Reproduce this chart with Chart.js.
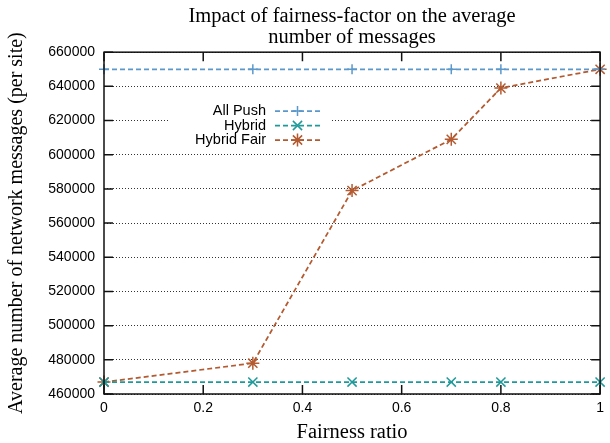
<!DOCTYPE html>
<html>
<head>
<meta charset="utf-8">
<script src="https://cdn.jsdelivr.net/npm/chart.js@4/dist/chart.umd.min.js"></script>
<style>
    html, body { margin: 0; padding: 0; background: #fff; }
    canvas { display: block; }
</style>
</head>
<body>
<canvas id="chart" width="610" height="443"></canvas>
<script>
// Chart data
const fairness = [0, 0.3, 0.5, 0.7, 0.8, 1];
const allPush = [650000, 650000, 650000, 650000, 650000, 650000];
const hybrid = [467000, 467000, 467000, 467000, 467000, 467000];
const hybridFair = [467000, 478000, 579000, 609000, 639000, 650000];

const xTicks = [0, 0.2, 0.4, 0.6, 0.8, 1];
const yMin = 460000;
const yMax = 660000;
const yStep = 20000;

const seriesNames = ['All Push', 'Hybrid', 'Hybrid Fair'];
const seriesColors = ['#5b98cc', '#1f9a9a', '#b35a30'];
const seriesMarkers = ['cross', 'crossRot', 'star'];
const markerSizes = [5, 6.5, 6.5];
const seriesValues = [allPush, hybrid, hybridFair];

const sans = "'Liberation Sans', Arial, sans-serif";
const serif = "'Liberation Serif', 'Times New Roman', serif";
const dash = [5, 3];

// Draw a gnuplot-like marker (+, x or *) for the key
function drawMarker(ctx, style, cx, cy, r) {
    ctx.beginPath();
    if (style === 'cross' || style === 'star') {
        ctx.moveTo(cx - r, cy); ctx.lineTo(cx + r, cy);
        ctx.moveTo(cx, cy - r); ctx.lineTo(cx, cy + r);
    }
    if (style === 'crossRot' || style === 'star') {
        const d = r * Math.SQRT1_2;
        ctx.moveTo(cx - d, cy - d); ctx.lineTo(cx + d, cy + d);
        ctx.moveTo(cx - d, cy + d); ctx.lineTo(cx + d, cy - d);
    }
    ctx.stroke();
}

// Border box with inward ticks
const framePlugin = {
    id: 'frame',
    afterDatasetsDraw(chart) {
        const { ctx, chartArea: a, scales: { x, y } } = chart;
        ctx.save();
        ctx.strokeStyle = '#111';
        ctx.lineWidth = 1.5;
        ctx.beginPath();
        xTicks.forEach(v => {
            const px = x.getPixelForValue(v);
            ctx.moveTo(px, a.bottom); ctx.lineTo(px, a.bottom - 9);
            ctx.moveTo(px, a.top); ctx.lineTo(px, a.top + 9);
        });
        y.ticks.forEach(t => {
            const py = y.getPixelForValue(t.value);
            ctx.moveTo(a.left, py); ctx.lineTo(a.left + 9, py);
            ctx.moveTo(a.right, py); ctx.lineTo(a.right - 9, py);
        });
        ctx.stroke();
        ctx.strokeRect(a.left, a.top, a.right - a.left, a.bottom - a.top);
        ctx.restore();
    }
};

// Key inside the plot, opaque like gnuplot's
const keyPlugin = {
    id: 'key',
    afterDraw(chart) {
        const ctx = chart.ctx;
        const textRight = 266;
        const lineStart = 275;
        const lineEnd = 320;
        const top = 111;
        const rowGap = 14.5;
        ctx.save();
        ctx.fillStyle = '#fff';
        ctx.fillRect(168, 101, 162, 48);
        ctx.font = '14.5px ' + sans;
        ctx.textAlign = 'right';
        ctx.textBaseline = 'middle';
        seriesNames.forEach((name, i) => {
            const yy = top + i * rowGap;
            ctx.fillStyle = '#000';
            ctx.fillText(name, textRight, yy);
            ctx.strokeStyle = seriesColors[i];
            ctx.lineWidth = 1.75;
            ctx.setLineDash(dash);
            ctx.beginPath();
            ctx.moveTo(lineStart, yy);
            ctx.lineTo(lineEnd, yy);
            ctx.stroke();
            ctx.setLineDash([]);
            ctx.lineWidth = 1.5;
            drawMarker(ctx, seriesMarkers[i], (lineStart + lineEnd) / 2, yy, markerSizes[i]);
        });
        ctx.restore();
    }
};

const datasets = seriesNames.map((name, i) => ({
    label: name,
    data: fairness.map((f, j) => ({ x: f, y: seriesValues[i][j] })),
    borderColor: seriesColors[i],
    backgroundColor: seriesColors[i],
    borderWidth: 1.75,
    borderDash: dash,
    pointStyle: seriesMarkers[i],
    pointRadius: markerSizes[i],
    pointBorderWidth: 1.5,
    tension: 0,
    clip: false
}));

new Chart(document.getElementById('chart').getContext('2d'), {
    type: 'line',
    data: { datasets: datasets },
    options: {
        responsive: false,
        animation: false,
        devicePixelRatio: 1,
        layout: { padding: { left: 0, right: 3, top: 0, bottom: 0 } },
        plugins: {
            legend: { display: false },
            tooltip: { enabled: false },
            title: {
                display: true,
                fullSize: false,
                text: ['Impact of fairness-factor on the average', 'number of messages'],
                color: '#000',
                font: { family: serif, size: 20.5, weight: 'normal', lineHeight: 0.98 },
                padding: { top: 7, bottom: 5 }
            }
        },
        scales: {
            x: {
                type: 'linear',
                min: 0,
                max: 1,
                afterFit: s => { s.height = 49; },
                afterBuildTicks: s => { s.ticks = xTicks.map(v => ({ value: v })); },
                grid: { display: false, drawTicks: false },
                border: { display: false },
                ticks: {
                    color: '#000',
                    padding: 6,
                    font: { family: sans, size: 14 },
                    callback: v => String(+v.toFixed(1))
                },
                title: {
                    display: true,
                    text: 'Fairness ratio',
                    color: '#000',
                    font: { family: serif, size: 20.5, lineHeight: 1.0 },
                    padding: { top: 0, bottom: 0 }
                }
            },
            y: {
                min: yMin,
                max: yMax,
                afterFit: s => { s.width = 104; },
                grid: {
                    color: '#333',
                    lineWidth: 1,
                    drawTicks: false
                },
                border: { display: false, dash: [1, 2] },
                ticks: {
                    stepSize: yStep,
                    color: '#000',
                    padding: 9,
                    font: { family: sans, size: 14 },
                    callback: v => String(v)
                },
                title: {
                    display: true,
                    text: 'Average number of network messages (per site)',
                    color: '#000',
                    font: { family: serif, size: 20, lineHeight: 1.0 },
                    padding: { top: 7, bottom: 0 }
                }
            }
        }
    },
    plugins: [framePlugin, keyPlugin]
});
</script>
</body>
</html>
